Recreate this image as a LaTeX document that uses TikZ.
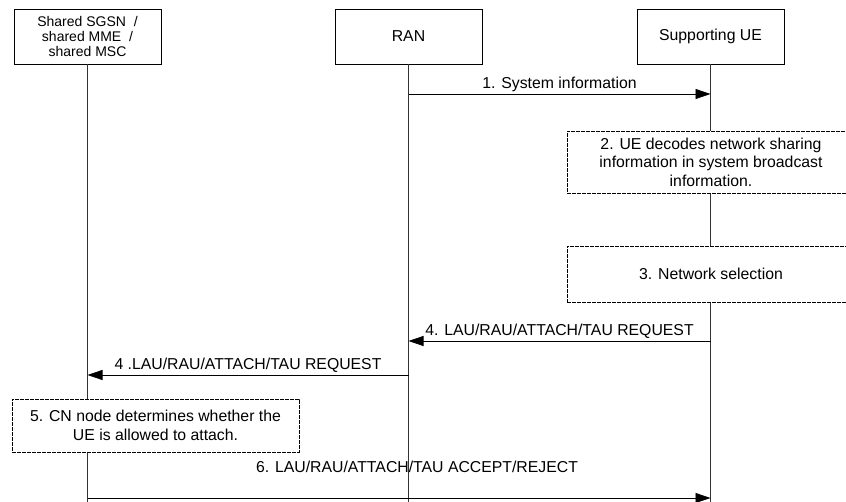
\documentclass[tikz,border=0pt]{standalone}
\usepackage{fontspec}
\setmainfont{Liberation Sans}
\usetikzlibrary{arrows.meta}
\tikzset{
  entity/.style={draw=black,fill=white,line width=0.8pt,minimum width=147pt,minimum height=55pt,align=center,inner sep=0pt},
  action/.style={draw=black,fill=white,line width=0.8pt,dash pattern=on 4pt off 1pt,align=center,inner sep=0pt,font=\fontsize{15.8}{18.5}\selectfont},
  lifeline/.style={draw=black!80,line width=0.8pt},
  msg/.style={draw=black,line width=0.8pt,-{Triangle[length=15pt,width=10pt]}},
  msglabel/.style={above,inner sep=2pt}
}
\begin{document}
\begin{tikzpicture}[x=1pt,y=-1pt,font=\fontsize{15.8}{17}\selectfont]
        \useasboundingbox (0,0) rectangle (846,502);
        \node[entity,font=\fontsize{14}{15.5}\selectfont] (sgsn) at (87.5,36.5) {Shared SGSN~~/\\shared MME~~/\\shared MSC};
        \node[entity] (ran) at (408.5,36.5) {RAN};
        \node[entity] (ue) at (710.5,36.5) {Supporting UE};
        \draw[lifeline] (sgsn.south) -- (sgsn |- 0,502);
        \draw[lifeline] (ran.south) -- (ran |- 0,502);
        \draw[lifeline] (ue.south) -- (ue |- 0,502);
        \draw[msg] (ran |- 0,94) -- (ue |- 0,94) node[msglabel,midway] (m1) {1. System information};
        \node[action,minimum width=288pt,minimum height=62pt] (decode) at (711,162) {2. UE decodes network sharing\\information in system broadcast\\information.};
        \node[action,minimum width=288pt,minimum height=56pt] (select) at (711,274) {3. Network selection};
        \draw[msg] (ue |- 0,341) -- (ran |- 0,341) node[msglabel,midway] (m4a) {4. LAU/RAU/ATTACH/TAU REQUEST};
        \draw[msg] (ran |- 0,375) -- (sgsn |- 0,375) node[msglabel,midway] (m4b) {4 .LAU/RAU/ATTACH/TAU REQUEST};
        \node[action,minimum width=287pt,minimum height=53pt] (check) at (155.5,425.5) {5. CN node determines whether the\\UE is allowed to attach.};
        \node (m6) at (417,467) {6. LAU/RAU/ATTACH/TAU ACCEPT/REJECT};
        \draw[msg] (sgsn |- 0,498) -- (ue |- 0,498);
    \end{tikzpicture}
\end{document}
